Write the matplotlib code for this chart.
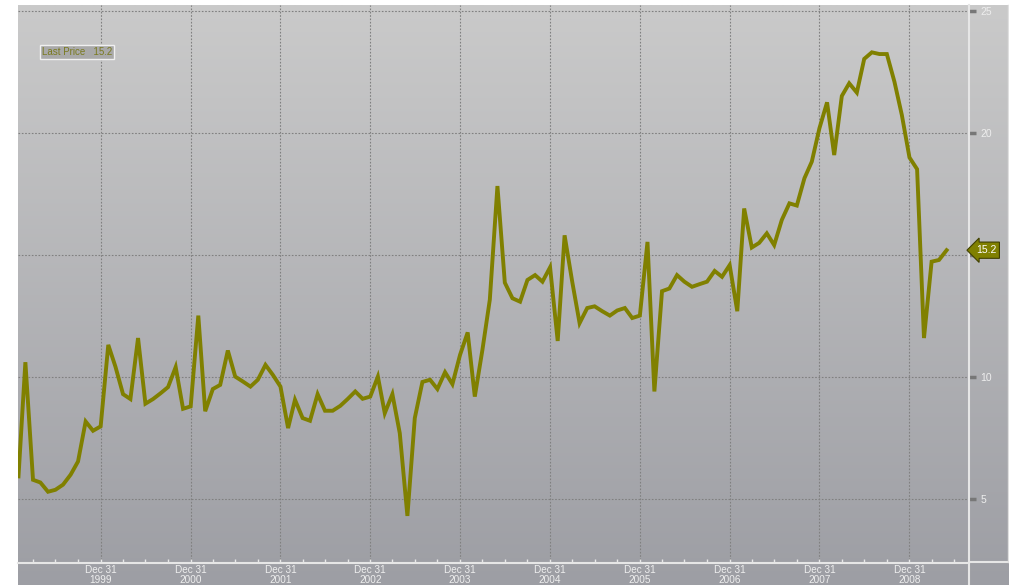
import numpy as np
import pandas as pd
import matplotlib
matplotlib.use("Agg")
import matplotlib.pyplot as plt
from matplotlib.lines import Line2D

plt.rcParams['font.family'] = ['Liberation Sans', 'DejaVu Sans']

# monthly last price, Jan 1999 - May 2009
prices_1999 = [5.93, 10.61, 5.79, 5.68, 5.30, 5.38, 5.59, 6.00, 6.54, 8.18, 7.80, 7.98]
prices_2000 = [11.32, 10.43, 9.30, 9.10, 11.60, 8.91, 9.10, 9.34, 9.59, 10.41, 8.70, 8.80]
prices_2001 = [12.52, 8.60, 9.51, 9.68, 11.09, 10.02, 9.82, 9.61, 9.89, 10.50, 10.09, 9.61]
prices_2002 = [7.91, 9.07, 8.32, 8.21, 9.30, 8.62, 8.62, 8.82, 9.10, 9.41, 9.11, 9.20]
prices_2003 = [10.02, 8.52, 9.30, 7.70, 4.31, 8.32, 9.80, 9.89, 9.51, 10.20, 9.71, 10.91]
prices_2004 = [11.83, 9.20, 11.12, 13.17, 17.83, 13.87, 13.23, 13.09, 13.98, 14.18, 13.91, 14.50]
prices_2005 = [11.48, 15.81, 13.91, 12.21, 12.83, 12.90, 12.70, 12.52, 12.73, 12.83, 12.42, 12.52]
prices_2006 = [15.54, 9.41, 13.52, 13.63, 14.18, 13.91, 13.70, 13.81, 13.91, 14.35, 14.11, 14.59]
prices_2007 = [12.70, 16.91, 15.31, 15.50, 15.89, 15.41, 16.44, 17.12, 17.03, 18.15, 18.83, 20.20]
prices_2008 = [21.26, 19.10, 21.52, 22.04, 21.66, 23.04, 23.31, 23.24, 23.24, 22.10, 20.74, 19.00]
prices_2009 = [18.52, 11.60, 14.73, 14.80, 15.20]

prices = (prices_1999 + prices_2000 + prices_2001 + prices_2002 + prices_2003 + prices_2004
          + prices_2005 + prices_2006 + prices_2007 + prices_2008 + prices_2009)
dates = pd.date_range('1999-01-31', periods=len(prices), freq='ME')
years = list(range(1999, 2009))
y_ticks = [5, 10, 15, 20, 25]
last_price = prices[-1]

W, H = 1009, 585
fig = plt.figure(figsize=(W / 100, H / 100), dpi=100)

# gradient background (plot area + right panel + bottom band)
bg = fig.add_axes([18 / W, 0, (1008 - 18) / W, 580 / H])
top_c = np.array([202, 202, 202]) / 255
bot_c = np.array([157, 158, 164]) / 255
t = np.linspace(0, 1, 256)[:, None, None]
grad = top_c * (1 - t) + bot_c * t
bg.imshow(np.repeat(grad, 2, axis=1), aspect='auto', extent=[0, 1, 0, 1])
bg.set_axis_off()

ax = fig.add_axes([18 / W, 22 / H, (969 - 18) / W, (563 - 5) / H])
ax.patch.set_alpha(0)
ax.plot(dates, prices, color='#808000', lw=2.8, solid_joinstyle='miter', zorder=3)

ax.set_xlim(pd.Timestamp('1999-01-29'), pd.Timestamp('2009-08-30'))
ax.set_ylim(2.38, 25.25)

major = [pd.Timestamp(f'{y}-12-31') for y in years]
ax.set_xticks(major)
ax.set_xticklabels([f'Dec 31\n{y}' for y in years], color='#eeeeee', fontsize=7.2, linespacing=1.0)
ax.set_xticks(pd.date_range('1999-03-31', '2009-08-30', freq='QE'), minor=True)
ax.tick_params(axis='x', which='both', direction='in', length=3, width=1,
               color='#e8e8e8', pad=1.5)

ax.yaxis.tick_right()
ax.set_yticks(y_ticks)
ax.set_yticklabels([str(v) for v in y_ticks], color='#eeeeee', fontsize=7.5)
ax.tick_params(axis='y', direction='out', length=5, width=2.5, color='#777777', pad=3)

ax.grid(True, which='major', color='#808080', lw=0.8, ls=(0, (1.5, 1.5)))

for s in ['top', 'left']:
    ax.spines[s].set_visible(False)
for s in ['bottom', 'right']:
    ax.spines[s].set_color('#e6e6e6')
    ax.spines[s].set_linewidth(1.5)

# separator lines of the right panel
fig.add_artist(Line2D([969 / W, 969 / W], [0, 22 / H], color='#e6e6e6', lw=1.5))
fig.add_artist(Line2D([969 / W, 1008 / W], [23 / H, 23 / H], color='#e6e6e6', lw=1.5))
fig.add_artist(Line2D([1008 / W, 1008 / W], [23 / H, 580 / H], color='#e0e0e0', lw=1))

# legend box
ax.text(0.025, 0.915, 'Last Price   15.2', transform=ax.transAxes, fontsize=7,
        color='#7a7a20', va='center', ha='left',
        bbox=dict(boxstyle='square,pad=0.2', fc='#a9a9a9', ec='#f0f0f0', lw=1))

# last price marker
ax.annotate(f'{last_price:.1f}', xy=(1.0, last_price), xycoords=('axes fraction', 'data'),
            xytext=(5, 0), textcoords='offset points', fontsize=7.5, color='white',
            va='center', ha='left', annotation_clip=False, zorder=5,
            bbox=dict(boxstyle='larrow,pad=0.3', fc='#808000', ec='#404000', lw=0.8))

fig.savefig('out.png', dpi=100, facecolor='white')
